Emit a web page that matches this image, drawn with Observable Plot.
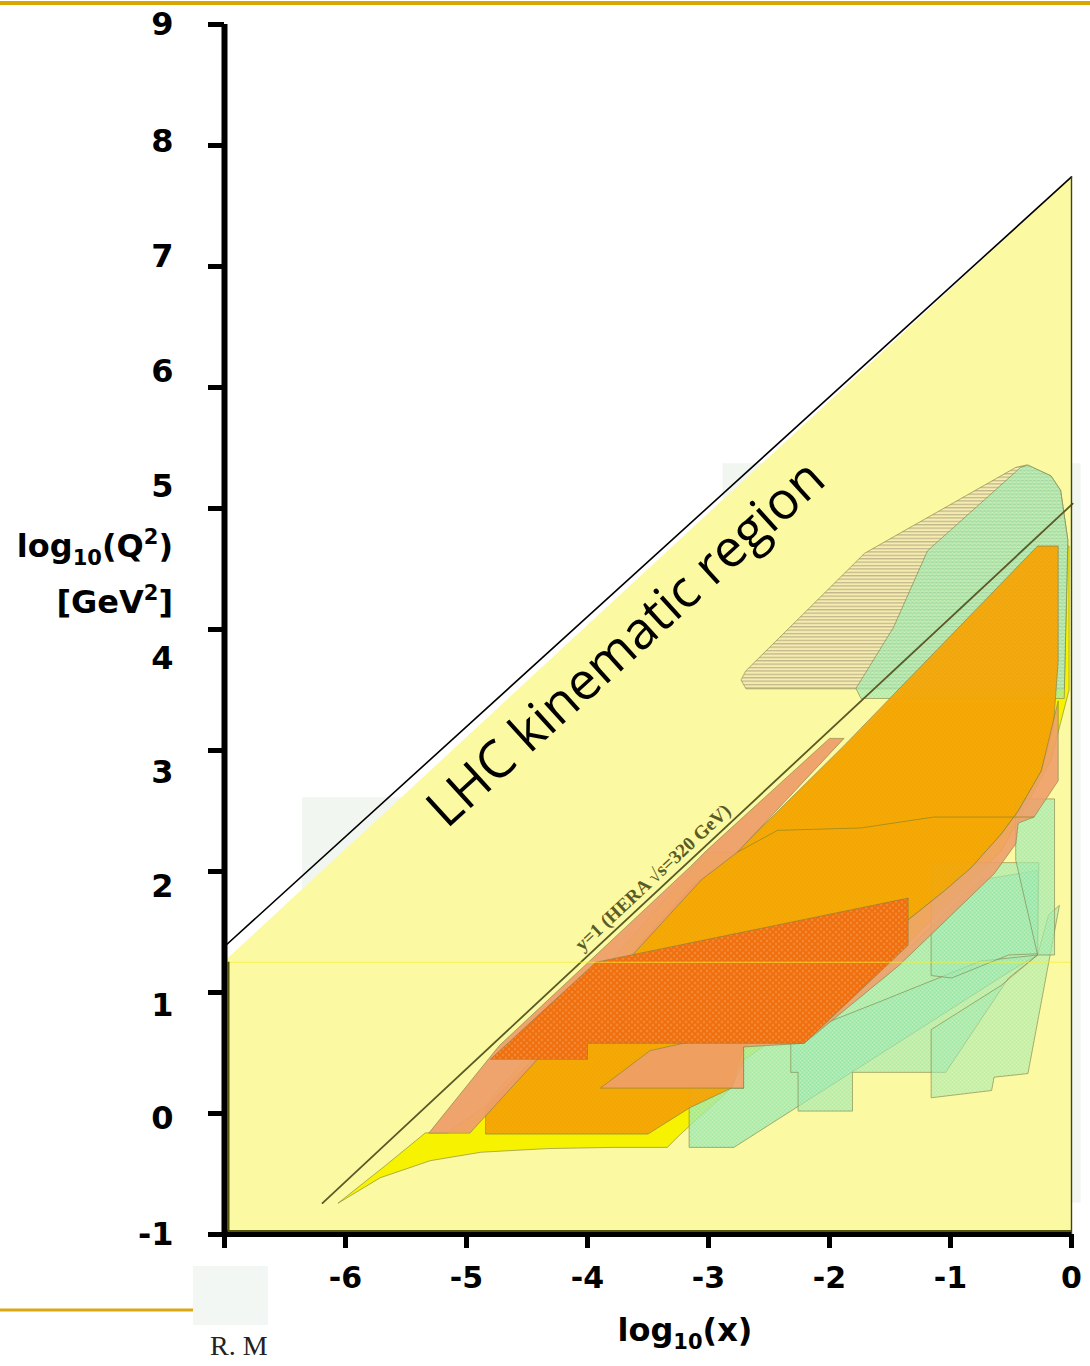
<!DOCTYPE html>
<html><head><meta charset="utf-8">
<script src="https://cdn.jsdelivr.net/npm/d3@7"></script>
<script src="https://cdn.jsdelivr.net/npm/@observablehq/plot@0.6"></script>
<style>
html,body{margin:0;padding:0;background:#fff;}
#chart{width:1090px;height:1366px;overflow:hidden;}
</style></head><body><div id="chart"></div>
<script>
// axis ticks
const xTicks = [-7, -6, -5, -4, -3, -2, -1, 0];
const yTicks = [-1, 0, 1, 2, 3, 4, 5, 6, 7, 8, 9];
// y tick labels and where they sit on the slide (they are not aligned to the ticks)
const yLabels = ["9", "8", "7", "6", "5", "4", "3", "2", "1", "0", "-1"];
const yLabelPos = [9.0, 8.03, 7.08, 6.13, 5.18, 3.76, 2.82, 1.87, 0.89, -0.04, -1.0];

// LHC kinematic limit and region
const lhcEdgeX = [-7, 0];
const lhcEdgeY = [1.38, 7.74];
const lhcFillX = [-7, -7, 0, 0];
const lhcFillY = [-1, 1.26, 7.74, -1];
const lhcRectTop = 1.25;

// HERA y=1 line
const heraLineX = [-6.19, 0.01];
const heraLineY = [-0.74, 5.04];

// extents of the inset HERA plot panels
const panelX1 = [-6.355, -2.88];
const panelX2 = [0.08, 0.08];
const panelY1 = [-0.74, 2.59];
const panelY2 = [2.61, 5.37];

// regions (log10 x, log10 Q2)
const yellowX = [-6.06,-5.67,-5.34,-5.16,-4.86,-3.02,-2.77,-0.13,-0.02,-0.02,-0.17,-0.58,-1.41,-2.71,-2.81,-3.23,-3.34,-3.78,-4.33,-4.88,-5.30,-5.71];
const yellowY = [-0.74,-0.43,-0.16,-0.16,0.05,2.16,2.16,4.69,4.69,3.50,2.92,2.17,1.35,0.44,0.21,-0.17,-0.28,-0.28,-0.29,-0.32,-0.39,-0.53];

const orangeX = [-4.84,-3.89,-3.15,-2.77,-1.88,-0.28,-0.11,-0.11,-0.15,-0.25,-0.44,-0.58,-0.83,-1.05,-1.35,-2.21,-2.71,-2.81,-3.15,-3.50,-4.84];
const orangeY = [0.05,1.03,1.87,2.16,3.04,4.69,4.69,3.74,3.19,2.83,2.50,2.31,2.03,1.84,1.60,0.93,0.55,0.21,0.05,-0.17,-0.17];

const salmonAX = [-5.31,-4.73,-3.15,-3.02,-2.00,-1.88,-2.76,-3.06,-4.97];
const salmonAY = [-0.16,0.56,2.04,2.17,3.10,3.10,2.16,1.93,-0.16];

const salmonBX = [-3.89,-2.71,-2.71,-2.21,-1.43,-0.64,-0.46,-0.44,-0.31,-0.11,-0.11,-0.25,-0.44,-0.58,-0.83,-1.05,-1.35,-2.21,-2.71,-3.48];
const salmonBY = [0.21,0.21,0.55,0.58,1.22,1.98,2.23,2.40,2.45,2.75,3.41,2.83,2.50,2.31,2.03,1.84,1.60,0.93,0.69,0.52];

const redX = [-4.80,-3.93,-1.35,-1.35,-2.21,-4.00,-4.00];
const redY = [0.45,1.25,1.78,1.39,0.58,0.58,0.45];

const greenAX = [-3.16,-3.16,-2.79,-0.50,-0.28,-0.28,-0.75,-1.43,-2.71,-2.71];
const greenAY = [0.21,-0.28,-0.28,1.18,1.31,2.01,1.93,1.29,0.55,0.21];
const greenBX = [-2.32,-2.32,-2.26,-2.26,-1.81,-1.81,-1.04,-0.52,-0.28,-0.75,-1.57];
const greenBY = [0.63,0.34,0.34,0.02,0.02,0.34,0.34,1.12,1.31,1.26,0.93];
const greenCX = [-1.16,-1.16,-0.66,-0.64,-0.36,-0.10,-0.19,-0.28,-0.58];
const greenCY = [0.69,0.13,0.19,0.30,0.33,1.72,1.64,1.31,1.06];
const greenDX = [-1.16,-1.16,-0.99,-0.52,-0.28,-0.27];
const greenDY = [2.07,1.14,1.12,1.31,1.32,2.07];
const greenEX = [-0.46,-0.14,-0.14,-0.28,-0.46];
const greenEY = [2.60,2.60,1.31,1.31,2.09];

const stripedX = [-2.73,-2.69,-0.06,-0.03,-0.09,-0.17,-0.37,-0.46,-1.71,-2.69];
const stripedY = [3.58,3.51,3.51,4.74,5.15,5.27,5.36,5.34,4.63,3.66];
const greenTopX = [-1.78,-1.74,-0.06,-0.03,-0.09,-0.17,-0.36,-0.42,-1.19,-1.47];
const greenTopY = [3.51,3.43,3.43,4.74,5.15,5.27,5.36,5.34,4.65,4.02];

const seamX = [-2.76,-2.43,-1.74,-1.14,-0.31];
const seamY = [2.16,2.34,2.36,2.45,2.45];

// annotations
const lhcLabel = {text: "LHC kinematic region", x: -3.68, y: 3.88};
const heraLabel = {text: "y=1 (HERA \u221As=320 GeV)", x: -3.46, y: 1.95};

const pts = (xs, ys) => xs.map((x, i) => ({x, y: ys[i]}));
const fmt = d => d === -7 ? "" : (d < 0 ? "-" + (-d) : String(d));
const outline = {stroke: "#7d7d45", strokeWidth: 0.8, strokeOpacity: 0.75, curve: "linear-closed"};
const poly = (xs, ys, fill, extra = {}) =>
  Plot.line(pts(xs, ys), {x: "x", y: "y", fill, ...outline, ...extra});

const plot = Plot.plot({
  width: 1090, height: 1366,
  marginLeft: 224, marginRight: 19, marginTop: 24, marginBottom: 132,
  x: {domain: [-7, 0], axis: null},
  y: {domain: [-1, 9], axis: null},
  style: {background: "transparent", fontFamily: "'DejaVu Sans', sans-serif", color: "black", overflow: "visible"},
  marks: [
    Plot.rect(panelX1.map((d, i) => ({x1: d, x2: panelX2[i], y1: panelY1[i], y2: panelY2[i]})),
      {x1: "x1", x2: "x2", y1: "y1", y2: "y2", fill: "#f2f6f0"}),
    Plot.line(pts(lhcFillX, lhcFillY), {x: "x", y: "y", fill: "#fbf9a1", stroke: "none", curve: "linear-closed"}),
    poly(yellowX, yellowY, "#f6f200", {fillOpacity: 1}),
    poly(stripedX, stripedY, "url(#hstripe)"),
    poly(greenTopX, greenTopY, "url(#gcross)", {fillOpacity: 0.7}),
    poly(greenAX, greenAY, "url(#gcross)", {fillOpacity: 0.8}),
    poly(greenBX, greenBY, "url(#gcross)", {fillOpacity: 0.65}),
    poly(greenCX, greenCY, "url(#gcross)", {fillOpacity: 0.55}),
    poly(greenDX, greenDY, "url(#gcross)", {fillOpacity: 0.65}),
    poly(greenEX, greenEY, "url(#gcross)", {fillOpacity: 0.7}),
    poly(orangeX, orangeY, "url(#ohatch)", {fillOpacity: 0.95}),
    poly(salmonAX, salmonAY, "#ee9e6a", {fillOpacity: 0.95}),
    poly(salmonBX, salmonBY, "#ee9e6a", {fillOpacity: 0.9}),
    poly(redX, redY, "url(#reddots)", {fillOpacity: 1}),
    Plot.line(pts(seamX, seamY), {x: "x", y: "y", stroke: "#9a8a20", strokeWidth: 1, strokeOpacity: 0.8}),
    Plot.line(pts(heraLineX, heraLineY), {x: "x", y: "y", stroke: "#5a5a28", strokeWidth: 1.8}),
    Plot.ruleY([lhcRectTop], {x1: -7, x2: 0, stroke: "#f5ec30", strokeWidth: 1, strokeOpacity: 0.7}),
    Plot.line(pts(lhcEdgeX, lhcEdgeY), {x: "x", y: "y", stroke: "black", strokeWidth: 1.6}),
    // frame of the LHC region picture
    Plot.ruleX([-7], {y1: -1, y2: lhcRectTop, dx: 4, stroke: "#55550c", strokeWidth: 2}),
    Plot.ruleY([-1], {x1: -7, x2: 0, dy: -3.5, stroke: "#55550c", strokeWidth: 2}),
    Plot.ruleX([0], {y1: -1, y2: lhcEdgeY[1], stroke: "#44441a", strokeWidth: 1.4}),
    // axes
    Plot.ruleX([-7], {y1: -1, y2: 9, stroke: "black", strokeWidth: 6}),
    Plot.ruleY([-1], {x1: -7, x2: 0, stroke: "black", strokeWidth: 5}),
    Plot.axisX(xTicks, {anchor: "bottom", tickSize: 14, tickPadding: 18, strokeWidth: 5, tickFormat: fmt,
      fontSize: 30, fontWeight: "bold", label: null}),
    Plot.axisY(yTicks, {anchor: "left", tickSize: 16, strokeWidth: 5, tickFormat: () => "", label: null}),
    Plot.text(yLabels.map((t, i) => ({t, y: yLabelPos[i]})), {x: () => -7, y: "y", text: "t", dx: -51,
      textAnchor: "end", fontSize: 32, fontWeight: "bold", fill: "black"}),
    Plot.text([lhcLabel], {x: "x", y: "y", text: "text", rotate: -42.3, fontSize: 52,
      fontFamily: "'Open Sans', sans-serif", fontWeight: "normal", fill: "black"}),
    Plot.text([heraLabel], {x: "x", y: "y", text: "text", rotate: -43, fontSize: 19,
      fontFamily: "'Liberation Serif', serif", fontWeight: "bold", fill: "#5a5a24"})
  ]
});

document.getElementById("chart").appendChild(plot);
const svg = d3.select(plot);

// patterns
const defs = svg.insert("defs", ":first-child");
const hs = defs.append("pattern").attr("id", "hstripe").attr("patternUnits", "userSpaceOnUse")
  .attr("width", 6).attr("height", 3.4);
hs.append("rect").attr("width", 6).attr("height", 3.4).attr("fill", "#f3eeb0");
hs.append("rect").attr("y", 0).attr("width", 6).attr("height", 1.3).attr("fill", "#c4b48c");
const rd = defs.append("pattern").attr("id", "reddots").attr("patternUnits", "userSpaceOnUse")
  .attr("width", 6).attr("height", 6);
rd.append("rect").attr("width", 6).attr("height", 6).attr("fill", "#f06e0c");
rd.append("circle").attr("cx", 1.5).attr("cy", 1.5).attr("r", 0.9).attr("fill", "#f6a860");
rd.append("circle").attr("cx", 4.5).attr("cy", 4.5).attr("r", 0.9).attr("fill", "#f6a860");
const gc = defs.append("pattern").attr("id", "gcross").attr("patternUnits", "userSpaceOnUse")
  .attr("width", 4).attr("height", 4);
gc.append("rect").attr("width", 4).attr("height", 4).attr("fill", "#8ae4a6");
gc.append("path").attr("d", "M0,0L4,4M4,0L0,4").attr("stroke", "#c6f2c0").attr("stroke-width", 0.8);
const oh = defs.append("pattern").attr("id", "ohatch").attr("patternUnits", "userSpaceOnUse")
  .attr("width", 4).attr("height", 4);
oh.append("rect").attr("width", 4).attr("height", 4).attr("fill", "#f4a000");
oh.append("path").attr("d", "M0,0L4,4M4,0L0,4").attr("stroke", "#f6ad10").attr("stroke-width", 0.7);

// decorative gold rules of the slide
svg.append("line").attr("x1", 0).attr("x2", 1090).attr("y1", 3).attr("y2", 3)
  .attr("stroke", "#d9a600").attr("stroke-width", 4);
svg.append("line").attr("x1", 0).attr("x2", 193).attr("y1", 1310).attr("y2", 1310)
  .attr("stroke", "#dba814").attr("stroke-width", 3);
svg.append("rect").attr("x", 193).attr("y", 1266).attr("width", 75).attr("height", 59).attr("fill", "#f3f7f3");
svg.append("text").attr("x", 210).attr("y", 1355).attr("text-anchor", "start")
  .attr("font-family", "'Liberation Serif', serif")
  .attr("font-size", 28).attr("fill", "#222").text("R. M");

// axis titles
const title = (x, y, anchor) => svg.append("text").attr("x", x).attr("y", y)
  .attr("text-anchor", anchor).attr("font-family", "'DejaVu Sans', sans-serif")
  .attr("font-weight", "bold").attr("font-size", 32).attr("fill", "black");
const t1 = title(173, 557, "end");
t1.append("tspan").text("log");
t1.append("tspan").attr("font-size", 21).attr("dy", 8).text("10");
t1.append("tspan").attr("dy", -8).text("(Q");
t1.append("tspan").attr("font-size", 21).attr("dy", -13).text("2");
t1.append("tspan").attr("dy", 13).text(")");
const t2 = title(173, 613, "end");
t2.append("tspan").text("[GeV");
t2.append("tspan").attr("font-size", 21).attr("dy", -13).text("2");
t2.append("tspan").attr("dy", 13).text("]");
const t3 = title(685, 1341, "middle");
t3.append("tspan").text("log");
t3.append("tspan").attr("font-size", 21).attr("dy", 8).text("10");
t3.append("tspan").attr("dy", -8).text("(x)");
</script></body></html>
